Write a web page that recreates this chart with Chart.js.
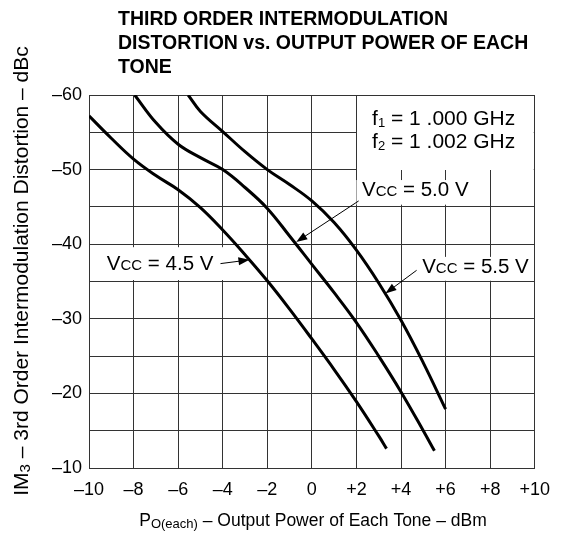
<!DOCTYPE html>
<html>
<head>
<meta charset="utf-8">
<script src="https://cdn.jsdelivr.net/npm/chart.js@4/dist/chart.umd.min.js"></script>
<style>
  html, body { margin: 0; padding: 0; background: #fff; }
</style>
</head>
<body>
<canvas id="chart" width="561" height="539"></canvas>
<script>
// Output power of each tone (dBm) and IM3 (dBc) for the three supply voltages
const vcc45X = [-10, -9, -8, -7, -6, -5, -4, -3, -2, -1, 0, 1, 2, 3, 3.35];
const vcc45Y = [-57.2, -54.2, -51.4, -49.2, -47.3, -44.9, -41.9, -38.6, -35.1, -31.3, -27.3, -23.2, -18.9, -14.3, -12.6];

const vcc50X = [-7.95, -7, -6, -5, -4, -3, -2, -1, 0, 1, 2, 3, 4, 5, 5.5];
const vcc50Y = [-60, -56.3, -53.4, -51.6, -50.0, -47.6, -44.8, -41.1, -37.3, -33.5, -29.5, -25.0, -20.2, -15.0, -12.3];

const vcc55X = [-5.55, -5, -4, -3, -2, -1, 0, 1, 2, 3, 4, 5, 6];
const vcc55Y = [-60, -57.8, -55.1, -52.4, -50.0, -48.0, -45.8, -42.9, -39.2, -34.8, -29.8, -24.1, -17.9];

const seriesNames = ['VCC = 4.5 V', 'VCC = 5.0 V', 'VCC = 5.5 V'];
const xTickLabels = ['–10', '–8', '–6', '–4', '–2', '0', '+2', '+4', '+6', '+8', '+10'];
const yTickLabels = ['–60', '–50', '–40', '–30', '–20', '–10'];

const FONT = '"Liberation Sans", Arial, Helvetica, sans-serif';

function toPoints(xs, ys) {
    return xs.map((x, i) => ({ x: x, y: ys[i] }));
}

function curve(name, xs, ys) {
    return {
        label: name,
        data: toPoints(xs, ys),
        showLine: true,
        borderColor: '#000',
        borderWidth: 3,
        pointRadius: 0,
        tension: 0.4,
        fill: false
    };
}

// draws text made of pieces with different sizes (subscripts etc.)
function drawRich(ctx, parts, x, y, align) {
    let w = 0;
    parts.forEach(p => { ctx.font = p.font; w += ctx.measureText(p.t).width; });
    let cx = align === 'center' ? x - w / 2 : x;
    ctx.textAlign = 'left';
    ctx.textBaseline = 'alphabetic';
    parts.forEach(p => {
        ctx.font = p.font;
        ctx.fillText(p.t, cx, y + (p.dy || 0));
        cx += ctx.measureText(p.t).width;
    });
}

function vccParts(value) {
    return [
        { t: 'V', font: '20.5px ' + FONT },
        { t: 'CC', font: '15px ' + FONT },
        { t: ' = ' + value + ' V', font: '20.5px ' + FONT }
    ];
}

function arrow(ctx, x1, y1, x2, y2) {
    const a = Math.atan2(y2 - y1, x2 - x1);
    const len = 11, half = 4;
    ctx.strokeStyle = '#000';
    ctx.lineWidth = 1;
    ctx.beginPath();
    ctx.moveTo(x1, y1);
    ctx.lineTo(x2 - Math.cos(a) * len * 0.8, y2 - Math.sin(a) * len * 0.8);
    ctx.stroke();
    ctx.fillStyle = '#000';
    ctx.beginPath();
    ctx.moveTo(x2, y2);
    ctx.lineTo(x2 - Math.cos(a) * len - Math.sin(a) * half, y2 - Math.sin(a) * len + Math.cos(a) * half);
    ctx.lineTo(x2 - Math.cos(a) * len + Math.sin(a) * half, y2 - Math.sin(a) * len - Math.cos(a) * half);
    ctx.closePath();
    ctx.fill();
}

// label boxes, in data units (x in dBm, y in dBc)
const labelBoxes = [
    { x0: -9.5, x1: -3.8, y0: -39.6, y1: -35.2 },   // Vcc = 4.5 V
    { x0: 2.0, x1: 7.4, y0: -48.6, y1: -45.3 },     // Vcc = 5.0 V
    { x0: 4.7, x1: 9.8, y0: -38.3, y1: -35.1 }      // Vcc = 5.5 V
];

const annotations = {
    id: 'annotations',
    beforeDatasetsDraw(chart) {
        const ctx = chart.ctx, xs = chart.scales.x, ys = chart.scales.y;
        ctx.save();
        ctx.fillStyle = '#fff';
        // frequency box in the top right corner
        const bx = xs.getPixelForValue(2), by0 = ys.getPixelForValue(-60), by1 = ys.getPixelForValue(-50);
        ctx.fillRect(Math.round(bx) + 1, Math.round(by0) + 1, chart.chartArea.right - Math.round(bx) - 2, Math.round(by1) - Math.round(by0) - 1);
        labelBoxes.forEach(b => {
            const px0 = xs.getPixelForValue(b.x0), px1 = xs.getPixelForValue(b.x1);
            const py0 = ys.getPixelForValue(b.y0), py1 = ys.getPixelForValue(b.y1);
            ctx.fillRect(px0, py0, px1 - px0, py1 - py0);
        });
        ctx.restore();
    },
    afterDatasetsDraw(chart) {
        const ctx = chart.ctx, xs = chart.scales.x, ys = chart.scales.y;
        const px = v => xs.getPixelForValue(v), py = v => ys.getPixelForValue(v);
        ctx.save();
        ctx.fillStyle = '#000';
        drawRich(ctx, [
            { t: 'f', font: '21px ' + FONT },
            { t: '1', font: '13px ' + FONT, dy: 2 },
            { t: ' = 1 .000 GHz', font: '21px ' + FONT }
        ], px(2.7), py(-56.0));
        drawRich(ctx, [
            { t: 'f', font: '21px ' + FONT },
            { t: '2', font: '13px ' + FONT, dy: 2 },
            { t: ' = 1 .002 GHz', font: '21px ' + FONT }
        ], px(2.7), py(-52.9));

        drawRich(ctx, vccParts('4.5'), px(-9.2), py(-36.6));
        arrow(ctx, px(-4.1), py(-37.4), px(-2.8), py(-37.9));

        drawRich(ctx, vccParts('5.0'), px(2.25), py(-46.4));
        arrow(ctx, px(2.1), py(-45.8), px(-0.7), py(-40.3));

        drawRich(ctx, vccParts('5.5'), px(4.95), py(-36.1));
        arrow(ctx, px(4.7), py(-36.5), px(3.3), py(-33.4));
        ctx.restore();
    },
    afterDraw(chart) {
        const ctx = chart.ctx;
        ctx.save();
        ctx.fillStyle = '#000';
        ctx.textAlign = 'left';
        ctx.textBaseline = 'alphabetic';
        ctx.font = 'bold 19.5px ' + FONT;
        ctx.fillText('THIRD ORDER INTERMODULATION', 118, 25);
        ctx.fillText('DISTORTION vs. OUTPUT POWER OF EACH', 118, 49);
        ctx.fillText('TONE', 118, 73);

        // x axis title
        drawRich(ctx, [
            { t: 'P', font: '17.5px ' + FONT },
            { t: 'O(each)', font: '13px ' + FONT, dy: 2 },
            { t: ' – Output Power of Each Tone – dBm', font: '17.5px ' + FONT }
        ], 313, 526, 'center');

        // y axis title
        ctx.translate(28, 271);
        ctx.rotate(-Math.PI / 2);
        drawRich(ctx, [
            { t: 'IM', font: '21px ' + FONT },
            { t: '3', font: '15px ' + FONT, dy: 2 },
            { t: ' – 3rd Order Intermodulation Distortion – dBc', font: '21px ' + FONT }
        ], 0, 0, 'center');
        ctx.restore();
    }
};

const ctx = document.getElementById('chart');
const chart = new Chart(ctx, {
    type: 'scatter',
    data: {
        datasets: [
            curve(seriesNames[0], vcc45X, vcc45Y),
            curve(seriesNames[1], vcc50X, vcc50Y),
            curve(seriesNames[2], vcc55X, vcc55Y)
        ]
    },
    options: {
        responsive: false,
        animation: false,
        devicePixelRatio: 1,
        layout: { padding: { top: 95, right: 24, left: 0, bottom: 0 } },
        plugins: {
            legend: { display: false },
            tooltip: { enabled: false }
        },
        scales: {
            x: {
                type: 'linear',
                min: -10,
                max: 10,
                afterFit: s => { s.height = 71; },
                grid: { color: '#333', lineWidth: 1, drawTicks: false },
                border: { color: '#333', width: 1 },
                ticks: {
                    stepSize: 2,
                    autoSkip: false,
                    maxRotation: 0,
                    padding: 11,
                    color: '#000',
                    font: { size: 18, family: FONT },
                    callback: (v) => xTickLabels[Math.round((v + 10) / 2)]
                }
            },
            y: {
                type: 'linear',
                min: -60,
                max: -10,
                reverse: true,
                afterFit: s => { s.width = 89; },
                grid: { color: '#333', lineWidth: 1, drawTicks: false },
                border: { color: '#333', width: 1 },
                ticks: {
                    stepSize: 5,
                    autoSkip: false,
                    padding: 7,
                    color: '#000',
                    font: { size: 18, family: FONT },
                    callback: (v) => (v % 10 === 0 ? yTickLabels[(v + 60) / 10] : '')
                }
            }
        }
    },
    plugins: [annotations]
});
</script>
</body>
</html>
